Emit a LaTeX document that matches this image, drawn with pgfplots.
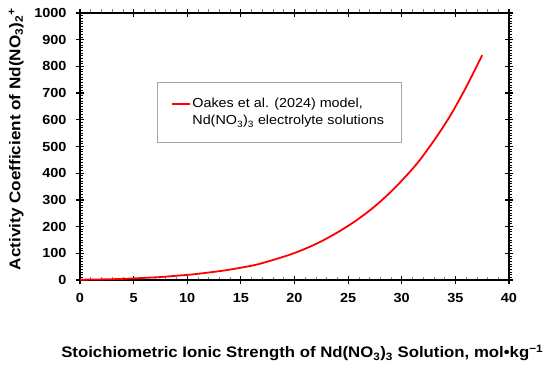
\documentclass[border=0pt]{standalone}
\usepackage{fontspec}
\setmainfont{Liberation Sans}[FakeStretch=1.1]
\usepackage{pgfplots}
\pgfplotsset{compat=1.18}
\begin{document}
\begin{tikzpicture}
\useasboundingbox (-80bp,-99bp) rectangle (470bp,280bp);
\begin{axis}[
  at={(0,0)}, anchor=south west,
  scale only axis, width=429bp, height=267bp,
  xmin=0, xmax=40, ymin=0, ymax=1000,
  xtick={0,5,...,40}, ytick={0,100,...,1000},
  minor x tick num=4, minor y tick num=9,
  tick align=center,
  major tick length=8bp, minor tick length=3.5bp,
  every minor x tick/.append style={yshift=1.75bp, gray, line width=0.6bp},
  every minor y tick/.append style={xshift=1.75bp, black, line width=0.9bp},
  every major tick/.append style={black, line width=1.2bp},
  axis line style={line width=1.6bp},
  /pgf/number format/assume math mode=true,
  /pgf/number format/1000 sep={},
  ticklabel style={font=\fontsize{13.2}{15}\selectfont\bfseries},
  yticklabel style={xshift=-6bp},
  xticklabel style={yshift=-6bp},
  xlabel={Stoichiometric Ionic Strength of Nd(NO\textsubscript{3})\textsubscript{3} Solution, mol•kg\textsuperscript{−1}},
  ylabel={Activity Coefficient of Nd(NO\textsubscript{3})\textsubscript{2}\textsuperscript{+}},
  xlabel style={at={(axis description cs:0.518,-0.291)}, anchor=base, font=\fontsize{15.3}{17}\selectfont\bfseries},
  ylabel style={at={(axis description cs:-0.149,0.528)}, anchor=center, font=\fontsize{15.6}{17}\selectfont\bfseries},
  legend style={at={(rel axis cs:0.1795,0.7416)}, anchor=north west,
    draw=gray!70, line width=0.8bp, inner xsep=15bp, inner ysep=14bp,
    font=\fontsize{13.1}{17}\selectfont, cells={align=left}},
  legend cell align=left,
  legend image code/.code={\path[draw=none] (0bp,0bp) -- (18bp,0bp);
    \draw[red, line width=1.8bp, overlay] (0bp,8bp) -- (18bp,8bp);},
]
\addplot[red, line width=1.8bp, smooth] coordinates {
(0,1) (1.5,2) (3,3) (4.5,5) (6,8) (7.5,11) (9,16) (10.5,21) (12,28) (13.5,36)
(15,46) (16.5,58) (18,75) (19.5,94) (21,117) (22.5,145) (24,178) (25.5,216)
(27,260) (28.5,312) (30,372) (31.5,440) (33,522) (34.5,614) (36,722) (37.5,842)
};
\addlegendentry{Oakes et al. (2024) model,\\Nd(NO\textsubscript{3})\textsubscript{3} electrolyte solutions}
\end{axis}
\end{tikzpicture}
\end{document}
